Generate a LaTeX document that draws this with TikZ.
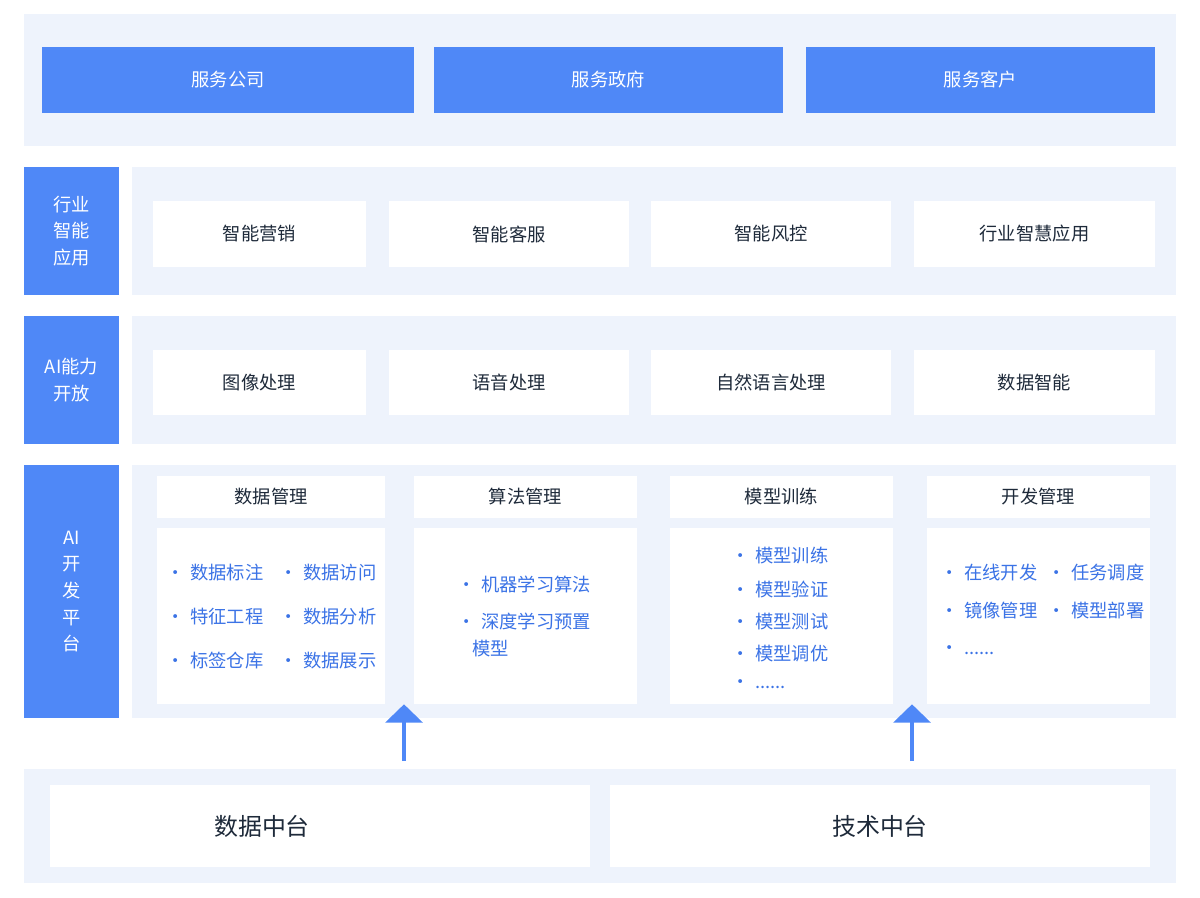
\documentclass[tikz,border=0pt]{standalone}
\usepackage{fontspec}
\setmainfont{Noto Sans CJK SC}
\usetikzlibrary{arrows.meta}
\definecolor{bandbg}{HTML}{EEF3FC}
\definecolor{mainblue}{HTML}{4F88F7}
\definecolor{darktxt}{HTML}{1E2A3A}
\definecolor{itemtxt}{HTML}{3B73E6}
\tikzset{
  blue box/.style={fill=mainblue, text=white, inner sep=0pt, align=center, font=\fontsize{13}{19}\selectfont},
  white box/.style={fill=white, text=darktxt, inner sep=0pt, align=center, font=\fontsize{13}{19}\selectfont},
  band/.style={fill=bandbg, inner sep=0pt},
  item/.style={text=itemtxt, anchor=west, inner sep=0pt, font=\fontsize{13}{19}\selectfont},
  up arrow/.style={draw=mainblue, line width=3.5pt, -{Triangle[width=26pt,length=13pt]}}
}
% \blk{name}{x1}{y1}{x2}{y2}{style}{text}
\newcommand\blk[7]{\node[#6, minimum width={(#4-#2)*0.025cm}, minimum height={(#5-#3)*0.025cm}]
  (#1) at ({(#2+#4)/2},{(#3+#5)/2}) {#7};}
% \itm{name}{x}{y}{text}
\newcommand\itm[4]{\node[item] (#1) at (#2,#3) {\textbullet\hspace{4pt}#4};}
\begin{document}
\begin{tikzpicture}[x=0.025cm, y=-0.025cm]
  \useasboundingbox[fill=white] (0,0) rectangle (1200,898);
  % service layer
  \blk{top}{24}{14}{1176}{146}{band}{}
  \blk{comp}{42}{47}{414}{113}{blue box}{服务公司}
  \blk{gov}{434}{47}{783}{113}{blue box}{服务政府}
  \blk{cust}{806}{47}{1155}{113}{blue box}{服务客户}
  % industry applications
  \blk{indlbl}{24}{167}{119}{295}{blue box}{行业\\智能\\应用}
  \blk{ind}{132}{167}{1176}{295}{band}{}
  \blk{mkt}{153}{201}{366}{267}{white box}{智能营销}
  \blk{svc}{389}{201}{629}{267}{white box}{智能客服}
  \blk{risk}{651}{201}{891}{267}{white box}{智能风控}
  \blk{wis}{914}{201}{1155}{267}{white box}{行业智慧应用}
  % AI capability
  \blk{ailbl}{24}{316}{119}{444}{blue box}{AI能力\\开放}
  \blk{ai}{132}{316}{1176}{444}{band}{}
  \blk{img}{153}{350}{366}{415}{white box}{图像处理}
  \blk{voice}{389}{350}{629}{415}{white box}{语音处理}
  \blk{nlp}{651}{350}{891}{415}{white box}{自然语言处理}
  \blk{dint}{914}{350}{1155}{415}{white box}{数据智能}
  % AI development platform
  \blk{devlbl}{24}{465}{119}{718}{blue box}{AI\\开\\发\\平\\台}
  \blk{dev}{132}{465}{1176}{718}{band}{}
  \blk{h1}{157}{476}{385}{518}{white box}{数据管理}
  \blk{h2}{414}{476}{637}{518}{white box}{算法管理}
  \blk{h3}{670}{476}{893}{518}{white box}{模型训练}
  \blk{h4}{927}{476}{1150}{518}{white box}{开发管理}
  \blk{c1}{157}{528}{385}{704}{white box}{}
  \blk{c2}{414}{528}{637}{704}{white box}{}
  \blk{c3}{670}{528}{893}{704}{white box}{}
  \blk{c4}{927}{528}{1150}{704}{white box}{}
  \itm{a1}{166}{573}{数据标注}
  \itm{a2}{279}{573}{数据访问}
  \itm{a3}{166}{617}{特征工程}
  \itm{a4}{279}{617}{数据分析}
  \itm{a5}{166}{661}{标签仓库}
  \itm{a6}{279}{661}{数据展示}
  \itm{b1}{457}{584}{机器学习算法}
  \itm{b2}{457}{621}{深度学习预置}
  \node[item] (b3) at (472,649) {模型};
  \itm{m1}{731}{556}{模型训练}
  \itm{m2}{731}{589}{模型验证}
  \itm{m3}{731}{622}{模型测试}
  \itm{m4}{731}{654}{模型调优}
  \itm{m5}{731}{684}{......}
  \itm{d1}{940}{573}{在线开发}
  \itm{d2}{1047}{573}{任务调度}
  \itm{d3}{940}{611}{镜像管理}
  \itm{d4}{1047}{611}{模型部署}
  \itm{d5}{940}{650}{......}
  % middle platforms
  \blk{base}{24}{769}{1176}{883}{band}{}
  \blk{datamid}{50}{785}{590}{867}{white box}{}
  \node[text=darktxt, font=\fontsize{17}{20}\selectfont] (dtxt) at (262,826) {数据中台};
  \blk{techmid}{610}{785}{1150}{867}{white box}{\fontsize{17}{20}\selectfont 技术中台}
  \coordinate (s1) at (404,761);
  \coordinate (s2) at (912,761);
  \draw[up arrow] (s1) -- (c2.south west -| s1);
  \draw[up arrow] (s2) -- (c4.south west -| s2);
\end{tikzpicture}
\end{document}
